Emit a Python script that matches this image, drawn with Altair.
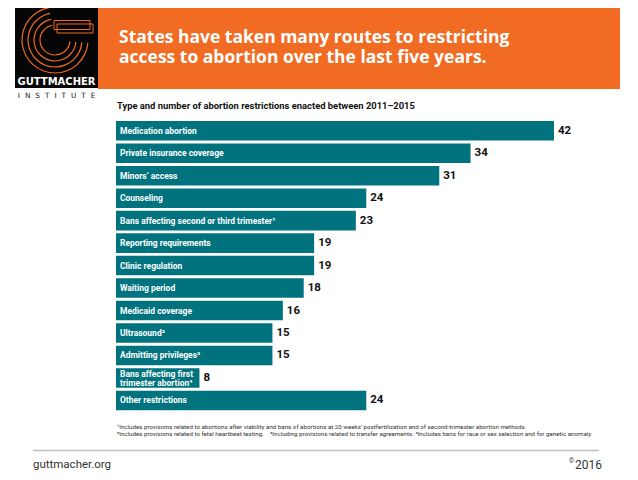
import altair as alt
import pandas as pd

# ---------------- data ----------------
categories = [
    "Medication abortion",
    "Private insurance coverage",
    "Minors’ access",
    "Counseling",
    "Bans affecting second or third trimester¹",
    "Reporting requirements",
    "Clinic regulation",
    "Waiting period",
    "Medicaid coverage",
    "Ultrasound²",
    "Admitting privileges³",
    "Bans affecting first\ntrimester abortion⁴",
    "Other restrictions",
]
values = [42, 34, 31, 24, 23, 19, 19, 18, 16, 15, 15, 8, 24]

title_lines = [
    "States have taken many routes to restricting",
    "access to abortion over the last five years.",
]
subtitle = ["Type and number of abortion restrictions enacted between 2011–2015"]
footnotes = [
    "¹Includes provisions related to abortions after viability and bans of abortions at 20 weeks’ postfertilization and of second-trimester abortion methods.",
    "²Includes provisions related to fetal heartbeat testing.\u2003³Including provisions related to transfer agreements. ⁴Includes bans for race or sex selection and for genetic anomaly.",
]
brand = ["GUTTMACHER", "I\u2002\u2009N\u2002\u2009S\u2002\u2009T\u2002\u2009I\u2002\u2009T\u2002\u2009U\u2002\u2009T\u2002\u2009E"]
footer = ["guttmacher.org", "2016", "©"]

# ---------------- styles ----------------
TEAL = "#00737F"
ORANGE = "#F26B22"
NARROW = "Roboto, Liberation Sans, sans-serif"
GEO = "Open Sans, Lato, sans-serif"

df = pd.DataFrame({"cat": categories, "value": values})
df["lines"] = [c.count("\n") + 1 for c in categories]
one = pd.DataFrame({"k": [0]})

W, H = 438, 292.2

xenc = alt.X("value:Q", scale=alt.Scale(domain=[0, 42], nice=False, zero=True), axis=None)
yenc = alt.Y("cat:N", sort=categories,
             scale=alt.Scale(paddingInner=0.13, paddingOuter=0.065), axis=None)

bars = alt.Chart(df).mark_bar(color=TEAL).encode(x=xenc, y=yenc)

label_style = dict(align="left", baseline="middle", dx=4, color="white", font=NARROW,
                   fontWeight="bold", fontSize=8.5, lineBreak="\n", lineHeight=9)
bar_labels = alt.Chart(df).transform_filter("datum.lines == 1").mark_text(
    **label_style
).encode(x=alt.value(0), y=yenc, text="cat:N")
bar_labels2 = alt.Chart(df).transform_filter("datum.lines == 2").mark_text(
    dy=-4, **label_style
).encode(x=alt.value(0), y=yenc, text="cat:N")

value_labels = alt.Chart(df).mark_text(
    align="left", baseline="middle", dx=4, color="#111111", font=NARROW,
    fontWeight="bold", fontSize=11.5
).encode(x=xenc, y=yenc, text="value:Q")

# ---------------- header decoration ----------------
black_box = alt.Chart(one).mark_rect(color="#050505").encode(
    x=alt.value(-101), x2=alt.value(-18), y=alt.value(-113.5), y2=alt.value(-31.5))
orange_box = alt.Chart(one).mark_rect(color=ORANGE).encode(
    x=alt.value(-18), x2=alt.value(504), y=alt.value(-113.5), y2=alt.value(-30.5))

arcs = []
for r in [15, 21, 27, 33]:
    arcs.append(alt.Chart(one).mark_arc(
        color=ORANGE, radius=r + 0.6, radius2=r - 0.6, theta=1.66, theta2=6.1
    ).encode(x=alt.value(-61), y=alt.value(-79.5)))

box3d = [
    alt.Chart(one).mark_rect(fillOpacity=0, stroke=ORANGE, strokeWidth=1).encode(
        x=alt.value(-59), x2=alt.value(-23), y=alt.value(-95.5), y2=alt.value(-86.5)),
    alt.Chart(one).mark_rect(fillOpacity=0, stroke=ORANGE, strokeWidth=1).encode(
        x=alt.value(-62), x2=alt.value(-26), y=alt.value(-99), y2=alt.value(-90)),
]

title1 = alt.Chart(one).mark_text(
    text=title_lines[0], align="left", baseline="alphabetic", color="white",
    font=GEO, fontWeight="bold", fontSize=17.5
).encode(x=alt.value(3), y=alt.value(-76.2))
title2 = alt.Chart(one).mark_text(
    text=title_lines[1], align="left", baseline="alphabetic", color="white",
    font=GEO, fontWeight="bold", fontSize=17.5
).encode(x=alt.value(3), y=alt.value(-56.6))

brand1 = alt.Chart(one).mark_text(
    text=brand[0], align="center", baseline="alphabetic", color="white",
    font="DejaVu Sans", fontWeight="bold", fontSize=10
).encode(x=alt.value(-59.5), y=alt.value(-34.2))
brand2 = alt.Chart(one).mark_text(
    text=brand[1], align="center", baseline="alphabetic", color="#111111",
    font="DejaVu Sans", fontSize=7.2
).encode(x=alt.value(-59.5), y=alt.value(-21.5))

sub = alt.Chart(one).mark_text(
    text=subtitle[0], align="left", baseline="alphabetic", color="#111111",
    font=NARROW, fontWeight="bold", fontSize=9.4
).encode(x=alt.value(1), y=alt.value(-10))

# ---------------- footer ----------------
fn1 = alt.Chart(one).mark_text(
    text=footnotes[0], align="left", baseline="alphabetic", color="#333333",
    font=NARROW, fontSize=6.2
).encode(x=alt.value(1), y=alt.value(310))
fn2 = alt.Chart(one).mark_text(
    text=footnotes[1], align="left", baseline="alphabetic", color="#333333",
    font=NARROW, fontSize=6.2
).encode(x=alt.value(1), y=alt.value(317))

rule = alt.Chart(one).mark_rule(color="#bdbdbd", strokeWidth=1.5).encode(
    x=alt.value(-83), x2=alt.value(483), y=alt.value(331))

site = alt.Chart(one).mark_text(
    text=footer[0], align="left", baseline="middle", color="#333333",
    font=NARROW, fontSize=11.5
).encode(x=alt.value(-83), y=alt.value(345.5))
year = alt.Chart(one).mark_text(
    text=footer[1], align="right", baseline="middle", color="#333333",
    font=NARROW, fontSize=12
).encode(x=alt.value(486), y=alt.value(345.5))
copy = alt.Chart(one).mark_text(
    text=footer[2], align="right", baseline="middle", color="#333333",
    font=NARROW, fontSize=6.5
).encode(x=alt.value(458), y=alt.value(341.5))

chart = alt.layer(
    black_box, orange_box, *arcs, *box3d, title1, title2, brand1, brand2, sub,
    bars, bar_labels, bar_labels2, value_labels, fn1, fn2, rule, site, year, copy
).properties(
    width=W, height=H,
    autosize=alt.AutoSizeParams(type="none"),
    padding={"left": 108, "top": 111.5, "right": 76, "bottom": 64},
    background="white",
).configure_view(strokeWidth=0)

chart.save("out.html", embed_options={"renderer": "svg", "actions": False})
